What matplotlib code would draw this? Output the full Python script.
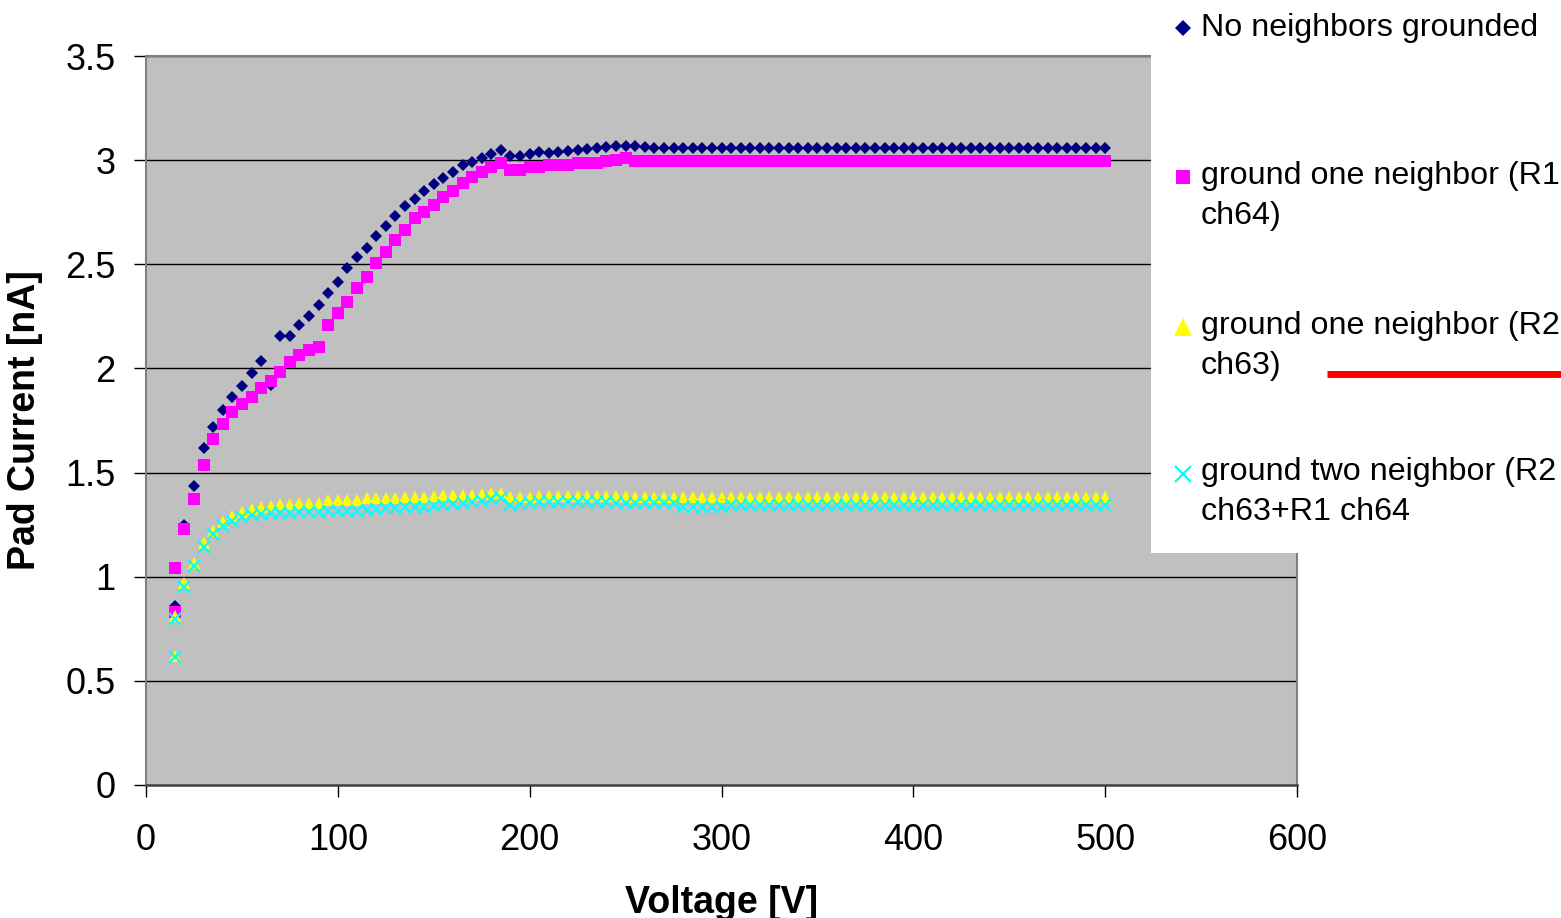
import matplotlib
matplotlib.use("Agg")
import matplotlib.pyplot as plt
from matplotlib.patches import Rectangle
from matplotlib.lines import Line2D

plt.rcParams['font.family'] = ['Liberation Sans', 'DejaVu Sans']

# Bias voltage [V]
voltage = [15, 15, 20, 25, 30, 35, 40, 45, 50, 55,
           60, 65, 70, 75, 80, 85, 90, 95, 100, 105,
           110, 115, 120, 125, 130, 135, 140, 145, 150, 155,
           160, 165, 170, 175, 180, 185, 190, 195, 200, 205,
           210, 215, 220, 225, 230, 235, 240, 245, 250, 255,
           260, 265, 270, 275, 280, 285, 290, 295, 300, 305,
           310, 315, 320, 325, 330, 335, 340, 345, 350, 355,
           360, 365, 370, 375, 380, 385, 390, 395, 400, 405,
           410, 415, 420, 425, 430, 435, 440, 445, 450, 455,
           460, 465, 470, 475, 480, 485, 490, 495, 500]

# Pad current [nA] for each grounding configuration
no_ground = [0.86, 1.04, 1.25, 1.435, 1.62, 1.72, 1.80, 1.865, 1.915, 1.98,
             2.035, 1.92, 2.155, 2.155, 2.21, 2.25, 2.305, 2.36, 2.415, 2.48,
             2.535, 2.58, 2.635, 2.685, 2.73, 2.78, 2.815, 2.85, 2.885, 2.915,
             2.945, 2.975, 2.99, 3.01, 3.03, 3.05, 3.02, 3.02, 3.03, 3.04,
             3.035, 3.04, 3.045, 3.048, 3.055, 3.06, 3.064, 3.07, 3.07, 3.07,
             3.064, 3.06, 3.06, 3.058, 3.058, 3.058, 3.058, 3.058, 3.058, 3.058,
             3.058, 3.058, 3.058, 3.058, 3.058, 3.058, 3.058, 3.058, 3.058, 3.058,
             3.058, 3.058, 3.058, 3.058, 3.058, 3.058, 3.058, 3.058, 3.058, 3.058,
             3.056, 3.056, 3.056, 3.056, 3.056, 3.056, 3.056, 3.056, 3.056, 3.056,
             3.056, 3.056, 3.056, 3.056, 3.056, 3.056, 3.056, 3.056, 3.056]

r1_ch64 = [0.83, 1.04, 1.23, 1.375, 1.535, 1.66, 1.735, 1.79, 1.83, 1.865,
           1.905, 1.94, 1.985, 2.03, 2.065, 2.09, 2.105, 2.21, 2.265, 2.32,
           2.385, 2.44, 2.505, 2.56, 2.615, 2.665, 2.72, 2.75, 2.785, 2.825,
           2.85, 2.89, 2.92, 2.945, 2.965, 2.985, 2.952, 2.955, 2.965, 2.965,
           2.975, 2.975, 2.975, 2.985, 2.985, 2.985, 2.995, 3.0, 3.008, 2.997,
           2.997, 2.997, 2.997, 2.997, 2.997, 2.997, 2.997, 2.997, 2.997, 2.997,
           2.997, 2.997, 2.997, 2.997, 2.997, 2.997, 2.997, 2.997, 2.997, 2.997,
           2.997, 2.997, 2.997, 2.997, 2.997, 2.997, 2.997, 2.997, 2.997, 2.997,
           2.997, 2.997, 2.997, 2.997, 2.997, 2.997, 2.997, 2.997, 2.997, 2.997,
           2.997, 2.997, 2.997, 2.997, 2.997, 2.997, 2.997, 2.997, 2.997]

r2_ch63 = [0.62, 0.81, 0.97, 1.065, 1.16, 1.22, 1.265, 1.29, 1.31, 1.323,
           1.335, 1.341, 1.347, 1.347, 1.356, 1.356, 1.356, 1.368, 1.368, 1.368,
           1.368, 1.376, 1.376, 1.376, 1.376, 1.384, 1.384, 1.384, 1.388, 1.39,
           1.39, 1.39, 1.39, 1.395, 1.403, 1.403, 1.384, 1.384, 1.384, 1.387,
           1.387, 1.387, 1.387, 1.387, 1.387, 1.387, 1.387, 1.387, 1.387, 1.382,
           1.382, 1.382, 1.382, 1.382, 1.382, 1.382, 1.382, 1.382, 1.382, 1.382,
           1.382, 1.382, 1.382, 1.382, 1.382, 1.382, 1.382, 1.382, 1.382, 1.382,
           1.382, 1.382, 1.382, 1.382, 1.382, 1.382, 1.382, 1.382, 1.382, 1.382,
           1.382, 1.382, 1.382, 1.382, 1.382, 1.382, 1.382, 1.382, 1.382, 1.382,
           1.382, 1.382, 1.382, 1.382, 1.382, 1.382, 1.382, 1.382, 1.382]

r2_ch63_r1_ch64 = [0.613, 0.795, 0.952, 1.051, 1.145, 1.203, 1.243, 1.269, 1.285, 1.296,
                   1.301, 1.304, 1.304, 1.307, 1.31, 1.312, 1.312, 1.315, 1.315, 1.317,
                   1.317, 1.322, 1.325, 1.33, 1.33, 1.333, 1.333, 1.337, 1.34, 1.345,
                   1.35, 1.355, 1.36, 1.365, 1.372, 1.38, 1.344, 1.348, 1.352, 1.358,
                   1.358, 1.358, 1.358, 1.358, 1.358, 1.358, 1.358, 1.352, 1.352, 1.352,
                   1.352, 1.352, 1.352, 1.352, 1.335, 1.335, 1.335, 1.335, 1.335, 1.344,
                   1.344, 1.344, 1.344, 1.344, 1.344, 1.344, 1.344, 1.344, 1.344, 1.344,
                   1.344, 1.344, 1.344, 1.344, 1.344, 1.344, 1.344, 1.344, 1.344, 1.344,
                   1.344, 1.344, 1.344, 1.344, 1.344, 1.344, 1.344, 1.344, 1.344, 1.344,
                   1.344, 1.344, 1.344, 1.344, 1.344, 1.344, 1.344, 1.344, 1.344]

series_labels = [["No neighbors grounded"],
                 ["ground one neighbor (R1", "ch64)"],
                 ["ground one neighbor (R2", "ch63)"],
                 ["ground two neighbor (R2", "ch63+R1 ch64"]]

x_ticks = [0, 100, 200, 300, 400, 500, 600]
y_ticks = [0, 0.5, 1, 1.5, 2, 2.5, 3, 3.5]
y_tick_labels = ["0", "0.5", "1", "1.5", "2", "2.5", "3", "3.5"]

W, H = 1561, 918
fig = plt.figure(figsize=(W / 100, H / 100), dpi=100)
fig.patch.set_facecolor("white")


def fx(px):
    return px / W


def fy(py):
    return (H - py) / H


ax = fig.add_axes([fx(146), fy(785), fx(1297) - fx(146), fy(56) - fy(785)])
ax.set_facecolor("#C0C0C0")
ax.set_xlim(0, 600)
ax.set_ylim(0, 3.5)

for yv in y_ticks[1:]:
    ax.axhline(yv, color="black", lw=1.0, zorder=1)

ax.plot(voltage, no_ground, ls="none", marker="D", ms=6.4, mew=0,
        color="#000080", zorder=3, clip_on=False)
ax.plot(voltage, r1_ch64, ls="none", marker="s", ms=8.2, mew=0,
        color="#FF00FF", zorder=3, clip_on=False)
ax.plot(voltage, r2_ch63, ls="none", marker="^", ms=8.6, mew=0,
        color="#FFFF00", zorder=3, clip_on=False)
ax.plot(voltage, r2_ch63_r1_ch64, ls="none", marker="x", ms=8.0, mew=1.5,
        color="#00FFFF", zorder=3, clip_on=False)

ax.set_xticks(x_ticks)
ax.set_yticks(y_ticks)
ax.set_yticklabels(y_tick_labels)
ax.tick_params(axis="x", direction="out", length=8.5, width=1, pad=19,
               labelsize=26, colors="black")
ax.tick_params(axis="y", direction="out", length=9, width=1, pad=13,
               labelsize=26, colors="black")

for side in ("left", "right", "top"):
    ax.spines[side].set_color("#808080")
    ax.spines[side].set_linewidth(1.5)
ax.spines["bottom"].set_color("#404040")
ax.spines["bottom"].set_linewidth(1.8)

fig.text(fx(721.5), fy(913), "Voltage [V]", ha="center", va="baseline",
         fontsize=27, fontweight="bold")
fig.text(fx(25), fy(420.5), "Pad Current [nA]", ha="center", va="center",
         rotation=90, fontsize=27, fontweight="bold")

# Legend panel on the right
fig.add_artist(Rectangle((fx(1151), fy(553)), 1 - fx(1151), fy(0) - fy(553),
                         transform=fig.transFigure, facecolor="white",
                         edgecolor="none", zorder=5))

legend_rows = [
    (28, 36, dict(marker="D", ms=8.0, mew=0, color="#000080")),
    (177, 184, dict(marker="s", ms=10.5, mew=0, color="#FF00FF")),
    (327, 334, dict(marker="^", ms=12.5, mew=0, color="#FFFF00")),
    (474, 480, dict(marker="x", ms=11.0, mew=1.6, color="#00FFFF")),
]
line_step = 40
for (mk_y, base_y, style), lines in zip(legend_rows, series_labels):
    fig.add_artist(Line2D([fx(1183)], [fy(mk_y)], ls="none",
                          transform=fig.transFigure, zorder=6, **style))
    for i, line in enumerate(lines):
        fig.text(fx(1201), fy(base_y + i * line_step), line, ha="left",
                 va="baseline", fontsize=23.2, zorder=6)

# Red marker line next to the third entry
fig.add_artist(Line2D([fx(1327), 1.0], [fy(373.5), fy(373.5)],
                      transform=fig.transFigure, color="#FF0000", lw=5.0,
                      solid_capstyle="butt", zorder=6))

fig.savefig("out.png", dpi=100)
